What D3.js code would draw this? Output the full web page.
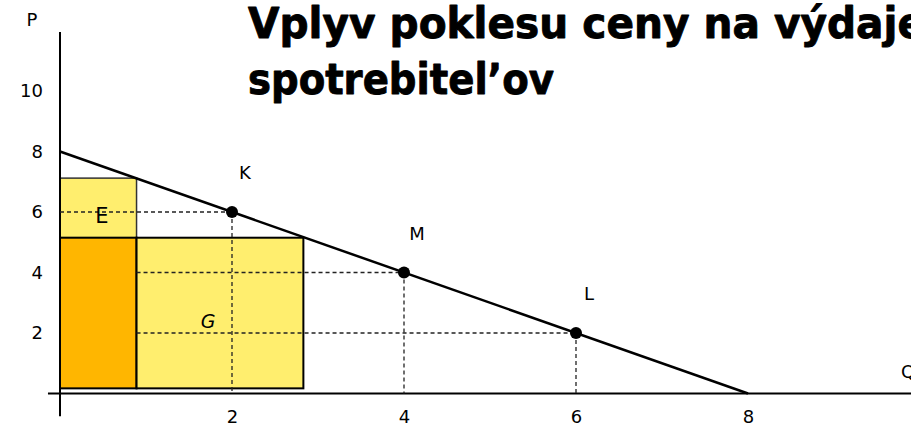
<!DOCTYPE html>
<html>
<head>
<meta charset="utf-8">
<script src="https://cdn.jsdelivr.net/npm/d3@7"></script>
<style>
  body { margin: 0; background: #fff; }
  .tick text { font-family: "DejaVu Sans", Verdana, sans-serif; font-size: 18px; fill: #000; }
</style>
</head>
<body>
<div id="chart"></div>
<script>
// chart size
var svgWidth = 911;
var svgHeight = 430;

// ---- data ----
var titleLines = ["Vplyv poklesu ceny na výdaje", "spotrebitel’ov"];
var priceTicks = [2, 4, 6, 8, 10];
var qtyTicks = [2, 4, 6, 8];

// demand line endpoints (Q, P)
var demandQ = [0, 8];
var demandP = [8, 0];

// points on the demand curve
var pointNames = ["K", "M", "L"];
var pointQ = [2, 4, 6];
var pointP = [6, 4, 2];
var dashStartQ = [0, 0.89, 0.89]; // where the horizontal guide starts

// spending rectangles
var rectNames = ["E", "core", "G"];
var rectQ0 = [0, 0, 0.89];
var rectQ1 = [0.89, 0.89, 2.83];
var rectP0 = [5.15, 0.17, 0.17];
var rectP1 = [7.12, 5.15, 5.15];
var rectColors = ["#FFEE6E", "#FFB600", "#FFEE6E"];

// ---- scales ----
var x = d3.scaleLinear().domain([0, 8]).range([60, 748]);
var y = d3.scaleLinear().domain([0, 8]).range([393.5, 151.5]);

var svg = d3.select("#chart")
  .append("svg")
  .attr("width", svgWidth)
  .attr("height", svgHeight);

// title
var title = svg.append("g")
  .attr("font-family", "'DejaVu Sans', sans-serif")
  .attr("font-weight", "bold")
  .attr("font-size", 42)
  .attr("stroke", "#000")
  .attr("stroke-width", 0.9)
  .attr("stroke-linejoin", "round");
title.append("text").attr("x", 248).attr("y", 38)
  .attr("textLength", 677).attr("lengthAdjust", "spacingAndGlyphs")
  .text(titleLines[0]);
title.append("text").attr("x", 248).attr("y", 94)
  .attr("textLength", 306).attr("lengthAdjust", "spacingAndGlyphs")
  .text(titleLines[1]);

// rectangles
var rects = rectNames.map(function(n, i) {
  return {name: n, q0: rectQ0[i], q1: rectQ1[i], p0: rectP0[i], p1: rectP1[i], color: rectColors[i]};
});
svg.selectAll(".area")
  .data(rects)
  .enter()
  .append("rect")
  .attr("class", "area")
  .attr("x", d => x(d.q0))
  .attr("y", d => y(d.p1))
  .attr("width", d => x(d.q1) - x(d.q0))
  .attr("height", d => y(d.p0) - y(d.p1))
  .attr("fill", d => d.color)
  .attr("stroke", (d, i) => i === 0 ? "#333" : "#000")
  .attr("stroke-width", (d, i) => i === 0 ? 1.5 : 2);

// axes lines
svg.append("line")
  .attr("x1", x(0)).attr("x2", x(0))
  .attr("y1", y(-0.75)).attr("y2", y(11.95))
  .attr("stroke", "#000").attr("stroke-width", 2);
svg.append("line")
  .attr("x1", x(-0.14)).attr("x2", svgWidth)
  .attr("y1", y(0)).attr("y2", y(0))
  .attr("stroke", "#000").attr("stroke-width", 2);

// tick labels
var yAxis = svg.append("g")
  .attr("transform", `translate(${x(0)},0)`)
  .call(d3.axisLeft(y).tickValues(priceTicks).tickSize(0).tickPadding(17));
yAxis.select(".domain").remove();

var xAxis = svg.append("g")
  .attr("transform", `translate(0,${y(0)})`)
  .call(d3.axisBottom(x).tickValues(qtyTicks).tickSize(0).tickPadding(17));
xAxis.select(".domain").remove();

// axis names
svg.append("text").attr("x", 32).attr("y", 26)
  .attr("text-anchor", "middle")
  .attr("font-family", "'DejaVu Sans', sans-serif").attr("font-size", 18)
  .text("P");
svg.append("text").attr("x", 901).attr("y", 378)
  .attr("font-family", "'DejaVu Sans', sans-serif").attr("font-size", 18)
  .text("Q");

// guide lines
var pts = pointNames.map(function(n, i) {
  return {name: n, q: pointQ[i], p: pointP[i], q0: dashStartQ[i]};
});
svg.selectAll(".hguide")
  .data(pts)
  .enter()
  .append("line")
  .attr("x1", d => x(d.q0)).attr("x2", d => x(d.q))
  .attr("y1", d => y(d.p)).attr("y2", d => y(d.p))
  .attr("stroke", "#222").attr("stroke-width", 1.3)
  .attr("stroke-dasharray", "4,3");
svg.selectAll(".vguide")
  .data(pts)
  .enter()
  .append("line")
  .attr("x1", d => x(d.q)).attr("x2", d => x(d.q))
  .attr("y1", d => y(d.p)).attr("y2", d => y(0))
  .attr("stroke", "#222").attr("stroke-width", 1.3)
  .attr("stroke-dasharray", "4,3");

// demand line
svg.append("line")
  .attr("x1", x(demandQ[0])).attr("y1", y(demandP[0]))
  .attr("x2", x(demandQ[1])).attr("y2", y(demandP[1]))
  .attr("stroke", "#000").attr("stroke-width", 2.5);

// points + labels
svg.selectAll(".dot")
  .data(pts)
  .enter()
  .append("circle")
  .attr("cx", d => x(d.q))
  .attr("cy", d => y(d.p))
  .attr("r", 6)
  .attr("fill", "#000");

svg.selectAll(".plabel")
  .data(pts)
  .enter()
  .append("text")
  .attr("x", d => x(d.q) + 13)
  .attr("y", d => y(d.p) - 33)
  .attr("text-anchor", "middle")
  .attr("font-family", "'DejaVu Sans', sans-serif").attr("font-size", 18)
  .text(d => d.name);

// area letters
svg.append("text").attr("x", 102).attr("y", 223)
  .attr("text-anchor", "middle")
  .attr("font-family", "'DejaVu Sans', sans-serif").attr("font-size", 21)
  .text(rectNames[0]);
svg.append("text").attr("x", 208).attr("y", 328)
  .attr("text-anchor", "middle").attr("font-style", "italic")
  .attr("font-family", "'DejaVu Sans', sans-serif").attr("font-size", 19)
  .text(rectNames[2]);
</script>
</body>
</html>
